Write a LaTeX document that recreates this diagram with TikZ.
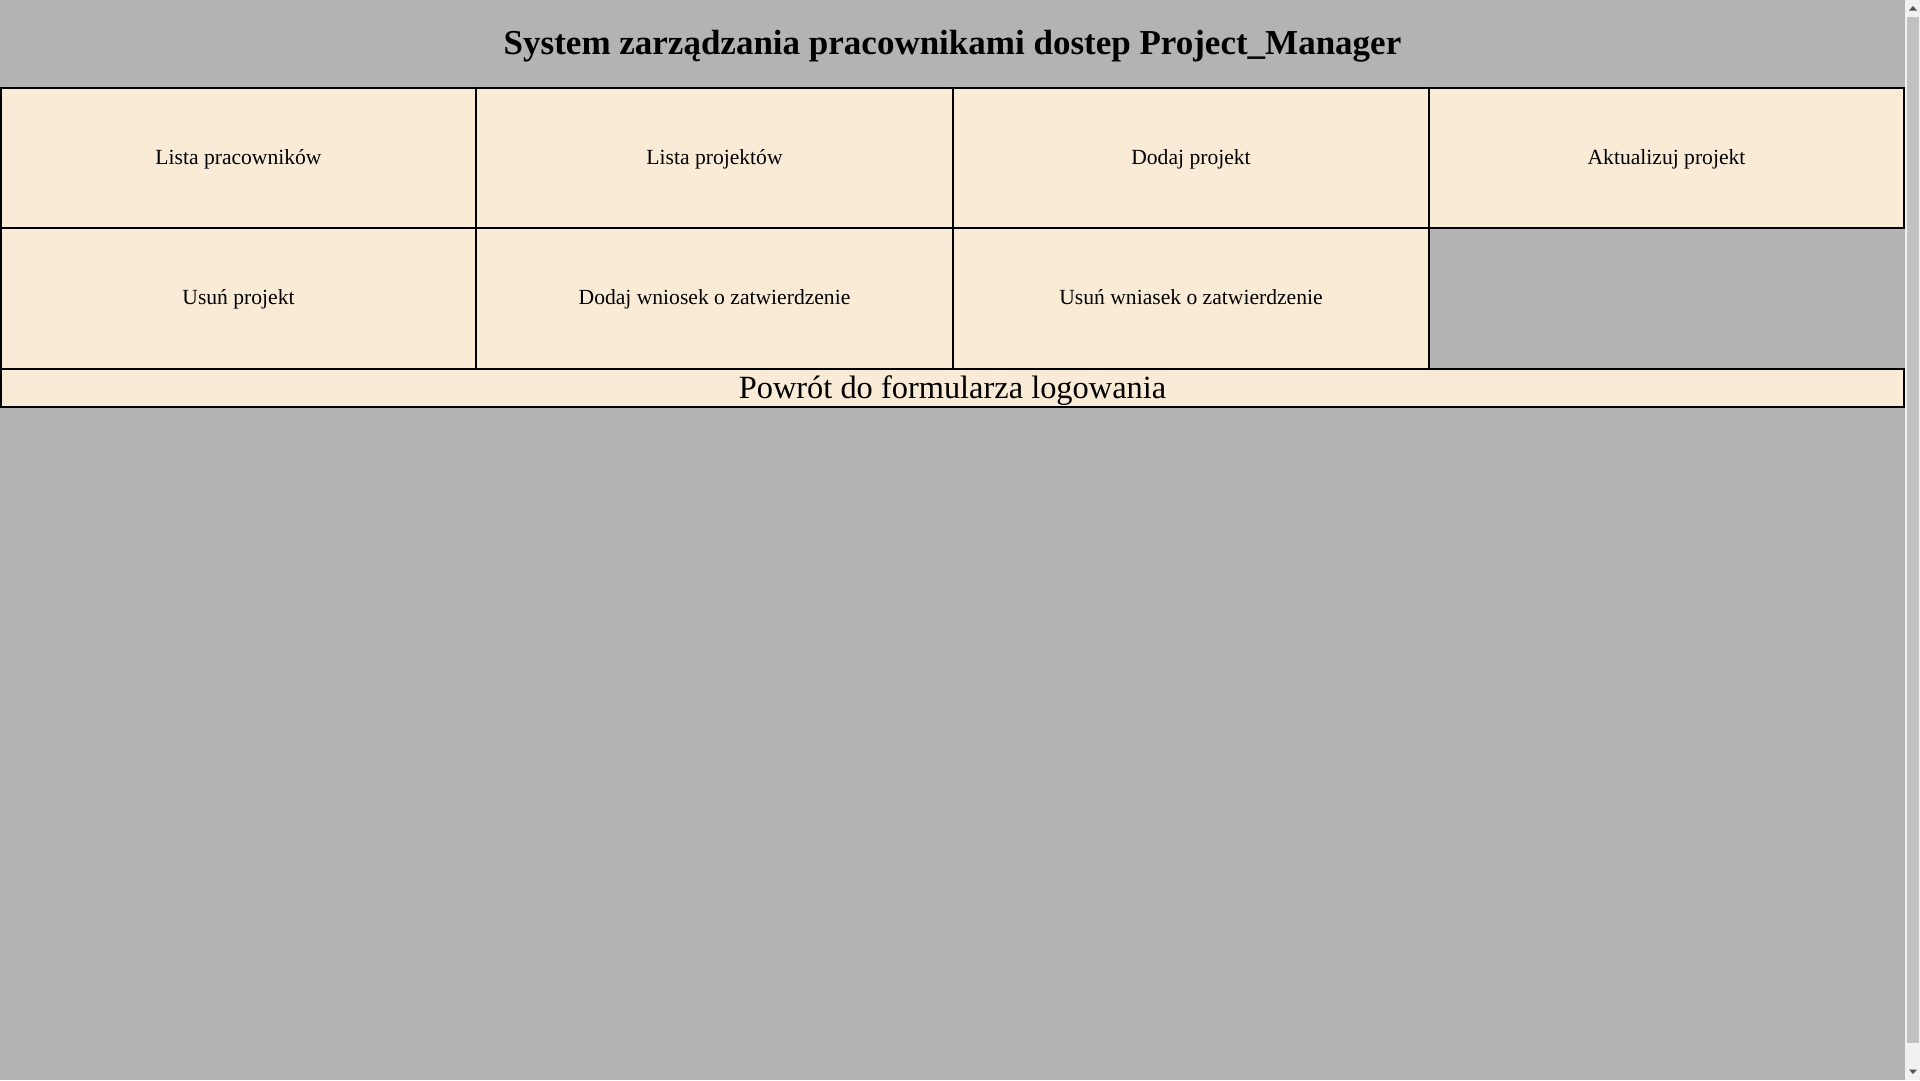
\documentclass[tikz,border=0pt]{standalone}
\usepackage{fontspec}
\setmainfont{Liberation Serif}
\definecolor{pagebg}{HTML}{B3B3B3}
\definecolor{cellbg}{HTML}{FAEBD7}
\definecolor{sbtrack}{HTML}{F1F1F1}
\definecolor{sbthumb}{HTML}{C1C1C1}
\definecolor{sbarrow}{HTML}{505050}
\tikzset{
  cell/.style={draw=black, fill=cellbg, line width=2pt, inner sep=0pt, outer sep=0pt,
    font=\fontsize{21.6}{25}\selectfont, text height=18pt, text depth=6pt},
  barcell/.style={draw=black, fill=cellbg, line width=2pt, inner sep=0pt, outer sep=0pt,
    font=\fontsize{32.4}{38}\selectfont, text height=26pt, text depth=6pt},
  titletext/.style={anchor=base, inner sep=0pt, font=\fontsize{35}{42}\selectfont\bfseries},
}
\begin{document}
\begin{tikzpicture}[x=1pt, y=-1pt]
\useasboundingbox (0,0) rectangle (1920,1080);
\fill[pagebg] (0,0) rectangle (1920,1080);
% title
\node[titletext] (title) at (952.5,54) {System zarządzania pracownikami dostep Project\_Manager};
% row 1
\node[cell, minimum width=475pt, minimum height=140pt] (c11) at (238.5,158) {Lista pracowników};
\node[cell, minimum width=477pt, minimum height=140pt] (c12) at (714.5,158) {Lista projektów};
\node[cell, minimum width=476pt, minimum height=140pt] (c13) at (1191,158) {Dodaj projekt};
\node[cell, minimum width=475pt, minimum height=140pt] (c14) at (1666.5,158) {Aktualizuj projekt};
% row 2
\node[cell, minimum width=475pt, minimum height=141pt] (c21) at (238.5,298.5) {Usuń projekt};
\node[cell, minimum width=477pt, minimum height=141pt] (c22) at (714.5,298.5) {Dodaj wniosek o zatwierdzenie};
\node[cell, minimum width=476pt, minimum height=141pt] (c23) at (1191,298.5) {Usuń wniasek o zatwierdzenie};
% bottom bar
\node[barcell, minimum width=1903pt, minimum height=38pt] (bar) at (952.5,388) {Powrót do formularza logowania};
% scrollbar
\fill[sbtrack] (1905,0) rectangle (1920,1080);
\fill[sbthumb] (1907,17) rectangle (1919,1043);
\fill[sbarrow] (1909,10.5) -- (1917,10.5) -- (1913,6) -- cycle;
\fill[sbarrow] (1909,1069.5) -- (1917,1069.5) -- (1913,1074) -- cycle;
\end{tikzpicture}
\end{document}
